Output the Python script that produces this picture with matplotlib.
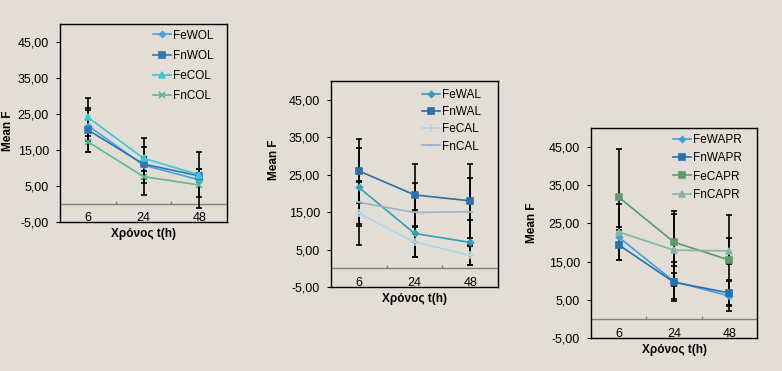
import matplotlib.pyplot as plt
import numpy as np

plt.rcParams['font.family'] = ['Liberation Sans', 'DejaVu Sans']

BG = '#E2DED6'

times = ['6', '24', '48']
y_ticks = [-5, 5, 15, 25, 35, 45]
y_tick_labels = ['-5,00', '5,00', '15,00', '25,00', '35,00', '45,00']

# panel 1 - OL
ol_names = ['FeWOL', 'FnWOL', 'FeCOL', 'FnCOL']
ol_means = [[21.8, 10.8, 6.7], [20.6, 11.1, 7.8], [24.1, 12.7, 8.1], [17.3, 7.6, 5.3]]
ol_sd = [[4.4, 5.1, 7.7], [6.1, 2.0, 1.8], [5.3, 5.7, 1.5], [2.8, 5.2, 3.3]]

# panel 2 - AL
al_names = ['FeWAL', 'FnWAL', 'FeCAL', 'FnCAL']
al_means = [[21.6, 9.3, 6.9], [26.0, 19.6, 18.0], [14.7, 7.0, 3.5], [17.6, 14.9, 15.1]]
al_sd = [[10.4, 6.3, 5.9], [8.5, 8.2, 9.8], [8.4, 4.0, 2.5], [5.7, 7.8, 9.0]]

# panel 3 - APR
apr_names = ['FeWAPR', 'FnWAPR', 'FeCAPR', 'FnCAPR']
apr_means = [[21.4, 9.8, 6.0], [19.4, 9.6, 6.8], [31.9, 20.1, 15.4], [22.8, 18.0, 17.8]]
apr_sd = [[2.6, 5.0, 3.8], [3.9, 4.3, 3.5], [12.6, 8.1, 11.7], [7.3, 9.4, 3.4]]

# styles
ol_colors = ['#4AA3D6', '#2E75B6', '#3FC6D2', '#5DB898']
ol_markers = ['D', 's', '^', 'x']
ol_sizes = [3, 5, 5, 4]

al_colors = ['#2FA0B6', '#2E6FA6', '#B4D6EA', '#9BB1C8']
al_markers = ['D', 's', '+', '_']
al_sizes = [3, 5, 6, 5]

apr_colors = ['#3F9FD6', '#2A6FB0', '#5E9A69', '#86B2AA']
apr_markers = ['D', 's', 's', '^']
apr_sizes = [3, 5, 5, 4]


def draw_panel(ax, names, means, sds, colors, markers, sizes, spacing, anchor, ylab_pos):
    x = np.arange(len(times)) + 0.5
    ax.set_facecolor(BG)
    for m, s in zip(means, sds):
        ax.errorbar(x, m, yerr=s, fmt='none', ecolor='black', elinewidth=1.2,
                    capsize=2.5, capthick=1.2, zorder=2)
    for name, m, c, mk, ms in zip(names, means, colors, markers, sizes):
        ax.plot(x, m, color=c, marker=mk, ms=ms, mew=1.2, lw=1.2, label=name, zorder=3)

    ax.set_xlim(0, len(times))
    ax.set_ylim(-5, 50)
    ax.axhline(0, color='#808080', lw=1, zorder=1)
    ax.vlines([1, 2], 0, 0.8, color='#808080', lw=1, zorder=1)

    ax.set_xticks(x)
    ax.set_xticklabels(times)
    ax.tick_params(axis='x', length=0, pad=-7, labelsize=9)
    ax.set_yticks(y_ticks)
    ax.set_yticklabels(y_tick_labels)
    ax.tick_params(axis='y', length=3, pad=5, labelsize=9)
    for sp in ax.spines.values():
        sp.set_linewidth(1)
        sp.set_color('black')

    ax.set_xlabel('Χρόνος t(h)', fontsize=8.5, fontweight='bold')
    ax.xaxis.set_label_coords(0.5, -0.03)
    ax.set_ylabel('Mean F', fontsize=8.5, fontweight='bold')
    ax.yaxis.set_label_coords(*ylab_pos)

    ax.legend(loc='upper right', bbox_to_anchor=anchor, frameon=False, fontsize=8.5,
              handlelength=1.5, handletextpad=0.2, labelspacing=spacing,
              borderpad=0.1, borderaxespad=0.2)


fig = plt.figure(figsize=(7.82, 3.71), dpi=100, facecolor=BG)

ax1 = fig.add_axes([60 / 782, 149 / 371, 167 / 782, 198 / 371])
ax2 = fig.add_axes([331 / 782, 84 / 371, 167 / 782, 206 / 371])
ax3 = fig.add_axes([591 / 782, 33 / 371, 166 / 782, 210 / 371])

draw_panel(ax1, ol_names, ol_means, ol_sd, ol_colors, ol_markers, ol_sizes,
           0.7, (0.94, 0.99), (-0.275, 0.46))
draw_panel(ax2, al_names, al_means, al_sd, al_colors, al_markers, al_sizes,
           0.45, (0.92, 0.98), (-0.305, 0.62))
draw_panel(ax3, apr_names, apr_means, apr_sd, apr_colors, apr_markers, apr_sizes,
           0.55, (0.93, 0.99), (-0.32, 0.55))

fig.savefig('out.png', dpi=100, facecolor=BG)
